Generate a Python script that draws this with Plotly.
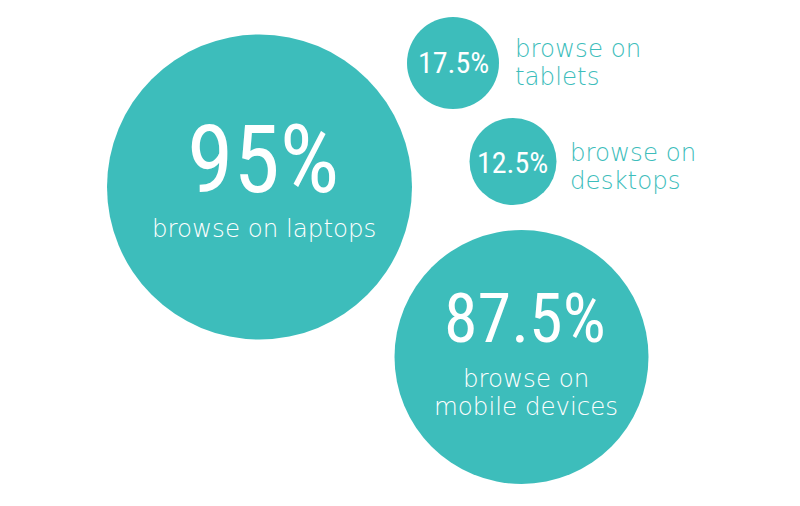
import plotly.graph_objects as go

# ---- data ----
categories = ["laptops", "tablets", "desktops", "mobile devices"]
values = [95, 17.5, 12.5, 87.5]
value_labels = ["95%", "17.5%", "12.5%", "87.5%"]
caption_lines = [["browse on laptops"], ["browse on", "tablets"], ["browse on", "desktops"], ["browse on", "mobile devices"]]

# ---- layout (pixel-space placement) ----
cx = [259.5, 453, 513, 521.5]
cy = [187, 63, 161.5, 357]
diam = [305, 92, 87, 254]
num_x = [263, 453, 512.5, 525]
num_y = [160, 62, 162, 319]
num_size = [94, 30, 30, 68]
cap_x = [263.5, 513, 568, 526]
cap_y0 = [228, 48.2, 152.2, 378.2]
cap_dy = 28.5
cap_inside = [True, False, False, True]

TEAL = "#3dbdbb"
NUM_FONT = "Liberation Sans Narrow, Roboto Condensed, DejaVu Sans Condensed, sans-serif"
CAP_FONT = "DejaVu Sans, Lato, sans-serif"
CAP_SIZE = 24.5

fig = go.Figure()
fig.add_trace(go.Scatter(
    x=cx, y=cy, mode="markers",
    marker=dict(size=diam, sizemode="diameter", color=TEAL, line=dict(width=0), opacity=1),
    hoverinfo="text", text=[f"{v}% {c}" for v, c in zip(values, categories)],
    showlegend=False,
))

annotations = []
for i in range(len(categories)):
    annotations.append(dict(
        x=num_x[i], y=num_y[i], xref="x", yref="y",
        text=value_labels[i], showarrow=False, xanchor="center", yanchor="middle",
        font=dict(family=NUM_FONT, size=num_size[i], color="white"),
    ))
    for j, line in enumerate(caption_lines[i]):
        annotations.append(dict(
            x=cap_x[i], y=cap_y0[i] + j * cap_dy, xref="x", yref="y",
            text=line, showarrow=False,
            xanchor="center" if cap_inside[i] else "left",
            yanchor="middle",
            font=dict(family=CAP_FONT, size=CAP_SIZE,
                      color="white" if cap_inside[i] else TEAL, weight=200),
        ))

fig.update_layout(
    width=800, height=506,
    margin=dict(l=0, r=0, t=0, b=0),
    paper_bgcolor="white", plot_bgcolor="white",
    xaxis=dict(range=[0, 800], visible=False, fixedrange=True),
    yaxis=dict(range=[506, 0], visible=False, fixedrange=True),
    annotations=annotations,
)

fig.write_html("out.html")
